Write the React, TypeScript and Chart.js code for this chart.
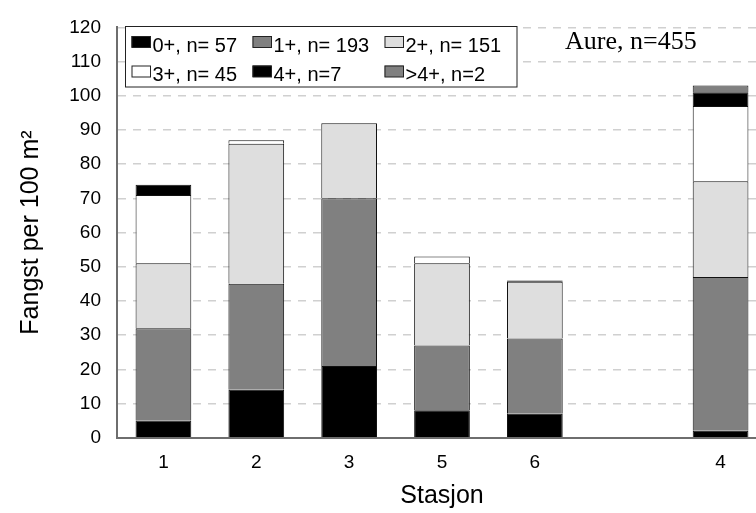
import React, { useEffect, useRef } from 'react';
import { Chart, registerables } from 'chart.js';

Chart.register(...registerables);

// ---- data ----
const stations = ['1', '2', '3', '5', '6', '', '4'];
const age0 = [5, 14, 21, 8, 7, 0, 2];
const age1 = [27, 31, 49, 19, 22, 0, 45];
const age2 = [19, 41, 22, 24, 16.6, 0, 28];
const age3 = [20, 1, 0, 2, 0, 0, 22];
const age4 = [3, 0, 0, 0, 0.4, 0, 4];
const age5 = [0, 0, 0, 0, 0, 0, 2];
const seriesLabels = ['0+, n= 57', '1+, n= 193', '2+, n= 151', '3+, n= 45', '4+, n=7', '>4+, n=2'];
const seriesColors = ['#000000', '#808080', '#dedede', '#ffffff', '#000000', '#808080'];
const yMin = 0;
const yMax = 120;
const yStep = 10;
const annotation = 'Aure, n=455';
const yTitle = 'Fangst per 100 m²';
const xTitle = 'Stasjon';

const SANS = "'Liberation Sans', Arial, sans-serif";
const SERIF = "'Liberation Serif', 'Times New Roman', serif";

const boxLegend = {
  id: 'boxLegend',
  afterDraw(chart: any) {
    const ctx = chart.ctx as CanvasRenderingContext2D;
    ctx.save();
    // legend frame
    ctx.fillStyle = '#ffffff';
    ctx.fillRect(125.5, 26, 391.5, 61);
    ctx.strokeStyle = '#222222';
    ctx.lineWidth = 1;
    ctx.strokeRect(125.5, 26.5, 391.5, 60.5);
    const colX = [131.5, 252.5, 384.5];
    const rowY = [36, 65.5];
    const rowBase = [51.5, 81];
    ctx.font = `20px ${SANS}`;
    ctx.textBaseline = 'alphabetic';
    ctx.textAlign = 'left';
    chart.data.datasets.forEach((ds: any, i: number) => {
      const r = Math.floor(i / 3);
      const c = i % 3;
      const x = colX[c];
      const y = rowY[r];
      ctx.fillStyle = ds.backgroundColor;
      ctx.fillRect(x, y, 19, 11.5);
      ctx.strokeStyle = '#222222';
      ctx.strokeRect(x + 0.5, y + 0.5, 18.5, 11);
      ctx.fillStyle = '#000000';
      ctx.fillText(ds.label, x + 21, rowBase[r]);
    });
    // annotation text
    ctx.font = `26px ${SERIF}`;
    ctx.fillStyle = '#000000';
    ctx.fillText(annotation, 565, 49);
    ctx.restore();
  },
};

export default function App() {
  const ref = useRef<HTMLCanvasElement | null>(null);

  useEffect(() => {
    if (!ref.current) return;
    Chart.defaults.font.family = SANS;
    const series = [age0, age1, age2, age3, age4, age5];
    const chart = new Chart(ref.current, {
      type: 'bar',
      data: {
        labels: stations,
        datasets: series.map((d, i) => ({
          label: seriesLabels[i],
          data: d,
          backgroundColor: seriesColors[i],
          borderColor: '#111111',
          borderWidth: 1,
          borderSkipped: 'start',
          barPercentage: 0.6,
          categoryPercentage: 1.0,
        })),
      },
      options: {
        responsive: false,
        animation: false,
        devicePixelRatio: 1,
        layout: { padding: { top: 17.7, left: 0, right: 0, bottom: 0 } },
        plugins: {
          legend: { display: false },
          tooltip: { enabled: false },
        },
        scales: {
          x: {
            stacked: true,
            offset: true,
            grid: { display: false, drawTicks: false },
            border: { display: true, color: '#6e6e6e', width: 2 },
            ticks: { color: '#000', font: { size: 19, family: SANS }, padding: 14, maxRotation: 0 },
            title: {
              display: true,
              text: xTitle,
              color: '#000',
              font: { size: 25, family: SANS },
              padding: { top: 0, bottom: 2 },
            },
            afterFit: (s: any) => {
              s.height = 75.3;
            },
          },
          y: {
            stacked: true,
            min: yMin,
            max: yMax,
            ticks: { stepSize: yStep, color: '#000', font: { size: 19, family: SANS }, padding: 16 },
            grid: {
              drawTicks: false,
              lineWidth: 1.5,
              color: (c: any) => (c.tick && c.tick.value === 0 ? 'rgba(0,0,0,0)' : '#d0d0d0'),
            },
            border: { display: true, color: '#6e6e6e', width: 2, dash: [8, 7] },
            title: {
              display: true,
              text: yTitle,
              color: '#000',
              font: { size: 25, family: SANS },
              padding: { top: 16, bottom: 0 },
            },
            afterFit: (s: any) => {
              s.width = 117;
            },
          },
        },
      },
      plugins: [boxLegend],
    });
    return () => chart.destroy();
  }, []);

  return (
    <div
      style={{
        position: 'absolute',
        left: 0,
        top: 0,
        width: 756,
        height: 513,
        overflow: 'hidden',
        background: '#fff',
      }}
    >
      <canvas ref={ref} width={767} height={513} style={{ display: 'block' }} />
    </div>
  );
}
